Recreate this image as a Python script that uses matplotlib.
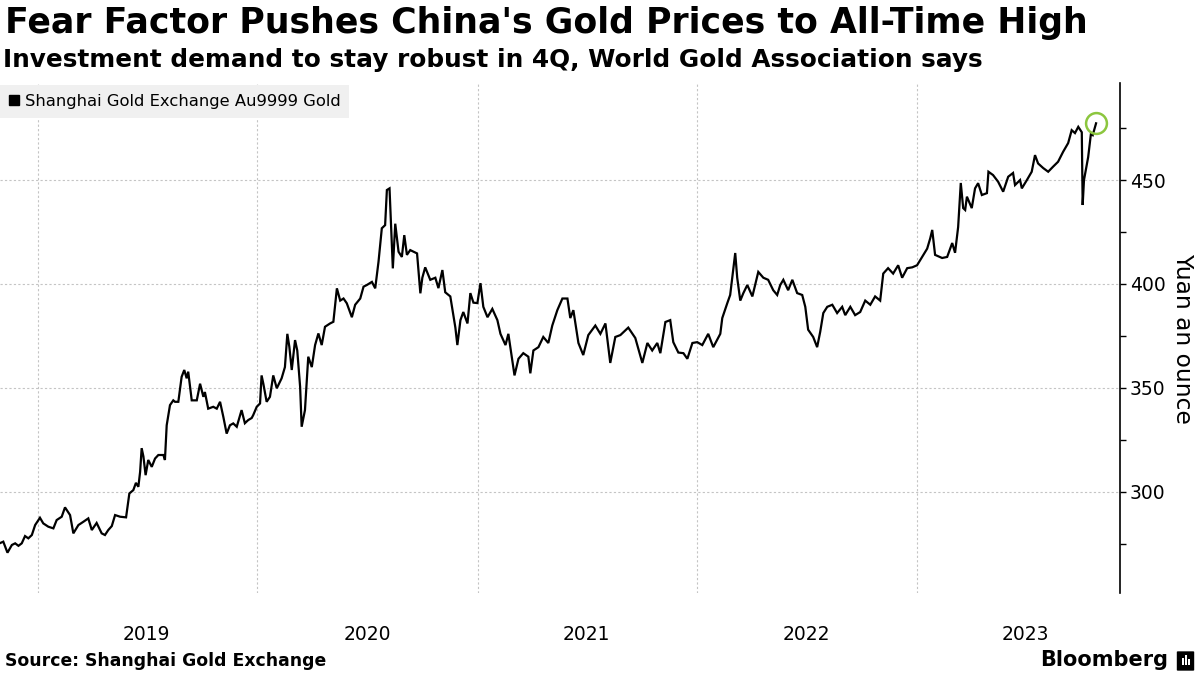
import datetime as dt
import matplotlib
matplotlib.use("Agg")
import matplotlib.pyplot as plt
import matplotlib.dates as mdates
from matplotlib.lines import Line2D
from matplotlib.patches import FancyBboxPatch, Rectangle

# -------------------------------
# Data: SGE Au9999
# time as decimal year, price in yuan
# -------------------------------
years = [
    2018.828, 2018.843, 2018.862, 2018.882, 2018.897, 2018.912, 2018.927, 2018.942,
    2018.957, 2018.973, 2018.988,
    2019.010, 2019.025, 2019.048, 2019.071, 2019.086, 2019.109, 2019.124, 2019.147,
    2019.162, 2019.185, 2019.208, 2019.230, 2019.246, 2019.268, 2019.291, 2019.306,
    2019.321, 2019.337, 2019.352, 2019.375, 2019.402, 2019.417, 2019.435, 2019.447,
    2019.458, 2019.466, 2019.473, 2019.481, 2019.491, 2019.503, 2019.519, 2019.534,
    2019.549, 2019.572, 2019.579, 2019.587, 2019.602, 2019.617, 2019.625, 2019.640,
    2019.655, 2019.667, 2019.678, 2019.685, 2019.701, 2019.724, 2019.739, 2019.754,
    2019.761, 2019.776, 2019.799, 2019.815, 2019.830, 2019.837, 2019.845, 2019.860,
    2019.875, 2019.890, 2019.906, 2019.928, 2019.943, 2019.958, 2019.974, 2019.981,
    2019.997,
    2020.012, 2020.019, 2020.027, 2020.042, 2020.057, 2020.072, 2020.088, 2020.110,
    2020.125, 2020.136, 2020.145, 2020.156, 2020.171, 2020.181, 2020.194, 2020.201,
    2020.216, 2020.231, 2020.247, 2020.262, 2020.277, 2020.292, 2020.307, 2020.330,
    2020.345, 2020.361, 2020.376, 2020.391, 2020.406, 2020.429, 2020.444, 2020.467,
    2020.482, 2020.497, 2020.520, 2020.535, 2020.550, 2020.565, 2020.580, 2020.588,
    2020.600, 2020.615, 2020.626, 2020.641, 2020.656, 2020.667, 2020.679, 2020.694,
    2020.709, 2020.725, 2020.740, 2020.749, 2020.762, 2020.785, 2020.808, 2020.822,
    2020.840, 2020.853, 2020.876, 2020.899, 2020.908, 2020.922, 2020.935, 2020.954,
    2020.967, 2020.981, 2020.999,
    2021.013, 2021.026, 2021.045, 2021.067, 2021.090, 2021.104, 2021.127, 2021.140,
    2021.158, 2021.168, 2021.186, 2021.208, 2021.231, 2021.240, 2021.254, 2021.277,
    2021.299, 2021.322, 2021.340, 2021.363, 2021.386, 2021.409, 2021.422, 2021.436,
    2021.459, 2021.481, 2021.504, 2021.536, 2021.559, 2021.582, 2021.604, 2021.627,
    2021.650, 2021.686, 2021.718, 2021.750, 2021.773, 2021.795, 2021.818, 2021.832,
    2021.855, 2021.877, 2021.891, 2021.914, 2021.937, 2021.955, 2021.978,
    2022.000, 2022.023, 2022.050, 2022.073, 2022.105, 2022.114, 2022.137, 2022.150,
    2022.173, 2022.182, 2022.196, 2022.210, 2022.228, 2022.251, 2022.278, 2022.301,
    2022.323, 2022.346, 2022.364, 2022.378, 2022.392, 2022.414, 2022.433, 2022.455,
    2022.478, 2022.492, 2022.505, 2022.528, 2022.546, 2022.560, 2022.574, 2022.592,
    2022.615, 2022.637, 2022.660, 2022.674, 2022.697, 2022.719, 2022.742, 2022.765,
    2022.788, 2022.810, 2022.833, 2022.847, 2022.869, 2022.892, 2022.915, 2022.933,
    2022.956, 2022.979,
    2023.001, 2023.024, 2023.047, 2023.061, 2023.070, 2023.083, 2023.115, 2023.138,
    2023.161, 2023.174, 2023.188, 2023.200, 2023.211, 2023.220, 2023.228, 2023.250,
    2023.265, 2023.279, 2023.296, 2023.319, 2023.326, 2023.347, 2023.370, 2023.393,
    2023.416, 2023.438, 2023.447, 2023.470, 2023.478, 2023.501, 2023.523, 2023.538,
    2023.552, 2023.575, 2023.598, 2023.620, 2023.643, 2023.666, 2023.689, 2023.705,
    2023.720, 2023.735, 2023.751, 2023.755, 2023.761, 2023.780, 2023.793, 2023.801,
    2023.816,
]

prices = [
    275.3, 276.0, 270.7, 274.4, 275.2, 274.0, 275.2, 278.7,
    277.6, 279.2, 284.0,
    287.5, 284.8, 283.2, 282.4, 286.4, 288.0, 292.5, 288.8,
    280.0, 284.0, 285.6, 287.2, 281.6, 285.0, 280.0, 279.2,
    281.6, 283.5, 288.8, 288.0, 287.7, 299.2, 300.8, 304.3,
    302.4, 309.6, 321.0, 317.0, 308.0, 315.3, 312.0, 316.0,
    317.7, 317.7, 315.3, 332.0, 341.7, 344.0, 343.3, 343.3,
    355.3, 358.6, 354.6, 357.8, 344.0, 344.0, 352.0, 345.7,
    348.0, 340.0, 340.9, 340.0, 343.3, 340.0, 336.0, 328.0,
    332.0, 332.9, 331.3, 339.3, 333.0, 334.5, 335.5, 336.9,
    340.9,
    342.5, 356.0, 352.0, 343.3, 345.7, 356.0, 349.8, 354.6,
    360.0, 376.0, 369.8, 358.6, 373.0, 368.0, 350.5, 331.3,
    339.3, 365.0, 360.0, 370.6, 376.2, 370.6, 379.4, 381.0,
    381.8, 397.9, 392.0, 393.0, 390.7, 384.0, 390.0, 393.0,
    398.7, 399.5, 401.0, 397.9, 410.7, 426.8, 428.3, 445.2,
    446.0, 407.5, 429.0, 415.5, 413.0, 423.5, 414.0, 416.3,
    415.5, 414.7, 395.5, 403.0, 408.0, 402.0, 403.0, 398.0,
    406.7, 396.0, 394.0, 379.0, 370.6, 382.6, 386.5, 381.0,
    395.6, 391.0, 390.8,
    400.4, 389.0, 384.0, 388.0, 382.6, 376.0, 370.6, 376.0,
    363.0, 356.0, 364.0, 366.7, 365.0, 357.0, 368.0, 369.6,
    374.5, 371.6, 380.0, 387.4, 393.0, 393.0, 383.6, 387.4,
    371.6, 365.8, 375.4, 380.0, 376.0, 381.0, 362.0, 374.5,
    375.4, 379.0, 374.0, 362.0, 371.6, 368.0, 371.6, 366.7,
    381.7, 382.6, 372.0, 367.0, 366.7, 364.0, 371.6,
    372.0, 370.6, 376.0, 369.6, 376.0, 383.6, 390.8, 394.7,
    414.9, 403.0, 392.0, 395.6, 399.5, 394.0, 405.8, 403.0,
    402.0, 397.0, 394.7, 399.5, 402.0, 397.0, 402.0, 395.6,
    394.7, 389.0, 378.0, 374.5, 369.6, 377.0, 386.0, 389.0,
    390.0, 386.0, 389.0, 385.0, 389.0, 385.0, 386.5, 392.0,
    390.0, 394.0, 392.0, 405.0, 407.6, 405.0, 409.0, 403.0,
    407.6, 408.0,
    409.0, 413.0, 417.0, 422.0, 426.0, 414.0, 412.5, 413.0,
    419.7, 415.0, 427.4, 448.6, 436.5, 435.6, 442.0, 436.5,
    446.0, 448.5, 442.8, 443.7, 454.0, 452.4, 449.2, 444.4,
    451.6, 453.4, 447.6, 450.0, 446.0, 450.0, 454.0, 462.0,
    458.0, 455.8, 454.0, 456.4, 458.8, 463.6, 467.8, 474.0,
    472.6, 475.6, 473.0, 438.0, 450.0, 461.0, 472.6, 471.7,
    477.3,
]

title = "Fear Factor Pushes China's Gold Prices to All-Time High"
subtitle = "Investment demand to stay robust in 4Q, World Gold Association says"
series_name = "Shanghai Gold Exchange Au9999 Gold"
y_label = "Yuan an ounce"
source = "Source: Shanghai Gold Exchange"


def year_to_date(y):
    start = dt.datetime(int(y), 1, 1)
    end = dt.datetime(int(y) + 1, 1, 1)
    return start + (end - start) * (y - int(y))


dates = [year_to_date(y) for y in years]

# -------------------------------
# Figure
# -------------------------------
W, H = 1200, 675
fig = plt.figure(figsize=(W / 100, H / 100), dpi=100)
ax = fig.add_axes([0, 1 - 593 / H, 1120 / W, (593 - 83) / H])

ax.plot(dates, prices, color="black", linewidth=1.6, solid_joinstyle="miter", zorder=3)

# green ring on the latest value
ax.plot(dates[-1], prices[-1], marker="o", markersize=15, markerfacecolor="none",
        markeredgecolor="#8cc63f", markeredgewidth=1.8, zorder=4)

ax.set_xlim(year_to_date(2018.828), year_to_date(2023.925))
ax.set_ylim(251.3, 496.7)

# year boundaries as grid, year labels centered mid-year
ax.xaxis.set_major_locator(mdates.YearLocator())
ax.xaxis.set_major_formatter(plt.NullFormatter())
ax.xaxis.set_minor_locator(mdates.MonthLocator(bymonth=7, bymonthday=1))
ax.xaxis.set_minor_formatter(mdates.DateFormatter("%Y"))
ax.tick_params(axis="x", which="both", length=0)
ax.tick_params(axis="x", which="minor", pad=23, labelsize=13.5)

ax.yaxis.tick_right()
ax.set_yticks([300, 350, 400, 450])
ax.set_yticks([275, 325, 375, 425, 475], minor=True)
ax.tick_params(axis="y", which="both", direction="out", length=4.5, width=1.0,
               pad=2.5, labelsize=13.5, colors="black")

grid_style = dict(color="#c4c4c4", linestyle=(0, (2, 2)), linewidth=0.8)
ax.grid(axis="x", which="major", **grid_style)
ax.grid(axis="y", which="major", **grid_style)

for side in ["top", "left", "bottom"]:
    ax.spines[side].set_visible(False)
ax.spines["right"].set_linewidth(1.2)

# legend
handle = Line2D([], [], marker="s", color="black", linestyle="None", markersize=7)
leg = ax.legend([handle], [series_name], loc="upper left", bbox_to_anchor=(0, 0.996),
                borderaxespad=0, frameon=True, fancybox=False, facecolor="#f0f0f0",
                edgecolor="none", framealpha=1, fontsize=11.8, handlelength=0.6,
                handletextpad=0.35, borderpad=0.55)

# texts
fig.text(5 / W, 1 - 23 / H, title, fontsize=25, fontweight="bold", va="center")
fig.text(3 / W, 1 - 60 / H, subtitle, fontsize=17.8, fontweight="bold", va="center")
fig.text(1183 / W, 1 - 338 / H, y_label, rotation=270, fontsize=16.8,
         ha="center", va="center")
fig.text(5 / W, 1 - 661 / H, source, fontsize=12.4, fontweight="bold", va="center")
fig.text(1168 / W, 1 - 660 / H, "Bloomberg", fontsize=15, fontweight="bold",
         ha="right", va="center")

# small Bloomberg mark
fig.patches.append(FancyBboxPatch((1178 / W, 1 - 670 / H), 15 / W, 18 / H,
                                  boxstyle="round,pad=0.001", transform=fig.transFigure,
                                  facecolor="black", edgecolor="none"))
for bx, bh in [(1182, 7), (1185, 10), (1188, 6)]:
    fig.patches.append(Rectangle((bx / W, 1 - 665 / H), 1.6 / W, bh / H,
                                 transform=fig.transFigure, facecolor="white",
                                 edgecolor="none"))

fig.savefig("out.png", dpi=100)
